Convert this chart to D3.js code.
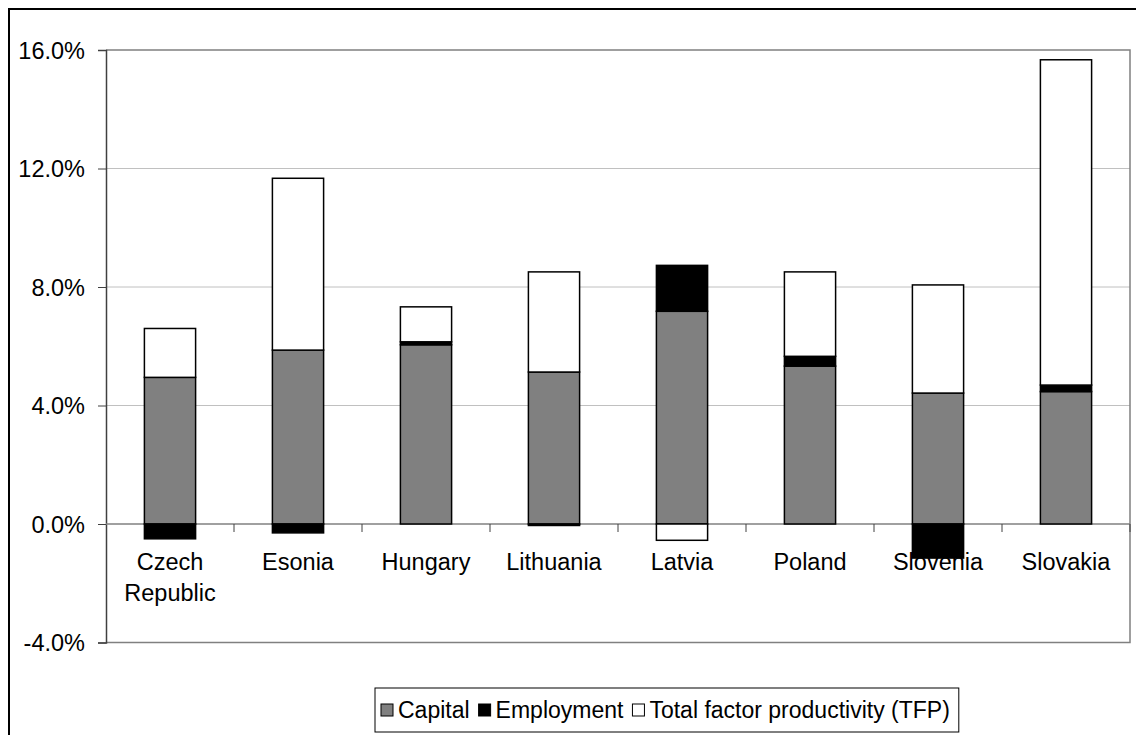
<!DOCTYPE html>
<html>
<head>
<meta charset="utf-8">
<script src="https://cdn.jsdelivr.net/npm/d3@7"></script>
<style>
  body { margin: 0; background: #fff; }
  text { font-family: "Liberation Sans", Arial, sans-serif; fill: #000; }
</style>
</head>
<body>
<div id="canvas"></div>
<script>
// data (percent growth contributions)
var countries = ["Czech Republic", "Esonia", "Hungary", "Lithuania", "Latvia", "Poland", "Slovenia", "Slovakia"];
var capital    = [4.95, 5.87, 6.05, 5.13, 7.18, 5.33, 4.42, 4.47];
var employment = [-0.50, -0.30, 0.10, -0.05, 1.55, 0.33, -1.15, 0.22];
var tfp        = [1.65, 5.80, 1.18, 3.38, -0.55, 2.85, 3.65, 10.98];
var seriesNames = ["Capital", "Employment", "Total factor productivity (TFP)"];
var yTicks = [-4, 0, 4, 8, 12, 16];

var W = 1136, H = 735;
var m = {t:50, r:6, b:92.5, l:106};

var svg = d3.select('#canvas').append('svg')
    .attr('width', W)
    .attr('height', H);

// outer frame
svg.append('rect')
    .attr('x', 9).attr('y', 9)
    .attr('width', W).attr('height', H)
    .attr('fill', '#fff')
    .attr('stroke', '#000')
    .attr('stroke-width', 2);

var rows = countries.map(function(c, i) {
    return {country: c, Capital: capital[i], Employment: employment[i], "Total factor productivity (TFP)": tfp[i]};
});

var scaleX = d3.scaleBand()
    .domain(countries)
    .range([m.l, W - m.r])
    .paddingInner(0.6)
    .paddingOuter(0.3);

var scaleY = d3.scaleLinear()
    .domain([-4, 16])
    .range([H - m.b, m.t]);

var colors = {"Capital": "#808080", "Employment": "#000000", "Total factor productivity (TFP)": "#ffffff"};

// gridlines
svg.append('g').selectAll('line')
    .data([4, 8, 12])
    .enter().append('line')
    .attr('x1', m.l).attr('x2', W - m.r)
    .attr('y1', function(d){ return scaleY(d); })
    .attr('y2', function(d){ return scaleY(d); })
    .attr('stroke', '#c0c0c0')
    .attr('stroke-width', 1);

// plot border top / right / bottom
svg.append('path')
    .attr('d', 'M' + m.l + ',' + scaleY(16) + 'H' + (W - m.r) + 'V' + scaleY(-4) + 'H' + m.l)
    .attr('fill', 'none')
    .attr('stroke', '#808080')
    .attr('stroke-width', 1.5);

// y axis
var axisY = d3.axisLeft(scaleY)
    .tickValues(yTicks)
    .tickSize(8)
    .tickPadding(13)
    .tickFormat(function(d){ return d.toFixed(1) + '%'; }); // plain hyphen for negatives
var gy = svg.append('g')
    .attr('transform', 'translate(' + m.l + ',0)')
    .call(axisY);
gy.select('.domain').attr('stroke', '#404040').attr('stroke-width', 1.5);
gy.selectAll('.tick line').attr('stroke', '#404040');
gy.selectAll('.tick text')
    .style('font-size', '23.5px')
    .attr('dy', '0.36em');

// zero line with category boundary ticks
var step = scaleX.step();
svg.append('line')
    .attr('x1', m.l).attr('x2', W - m.r)
    .attr('y1', scaleY(0)).attr('y2', scaleY(0))
    .attr('stroke', '#808080')
    .attr('stroke-width', 1.5);
svg.append('g').selectAll('line')
    .data(d3.range(1, countries.length + 1))
    .enter().append('line')
    .attr('x1', function(k){ return m.l + k * step; })
    .attr('x2', function(k){ return m.l + k * step; })
    .attr('y1', scaleY(0)).attr('y2', scaleY(0) + 8)
    .attr('stroke', '#404040');

// category labels (drawn below the bars)
var lab = svg.append('g').selectAll('text')
    .data(countries)
    .enter().append('text')
    .attr('text-anchor', 'middle')
    .attr('x', function(d){ return scaleX(d) + scaleX.bandwidth() / 2; })
    .attr('y', 570)
    .style('font-size', '23.5px');
lab.each(function(d) {
    var words = d.split(' ');
    var t = d3.select(this);
    words.forEach(function(w, i) {
        t.append('tspan')
            .attr('x', scaleX(d) + scaleX.bandwidth() / 2)
            .attr('dy', i === 0 ? 0 : 31)
            .text(w);
    });
});

// stacked bars
var stack = d3.stack()
    .keys(seriesNames)
    .offset(d3.stackOffsetDiverging);
var layers = stack(rows);

svg.append('g').selectAll('g')
    .data(layers)
    .enter().append('g')
    .attr('fill', function(d){ return colors[d.key]; })
    .selectAll('rect')
    .data(function(d){ return d; })
    .enter().append('rect')
    .attr('x', function(d){ return scaleX(d.data.country); })
    .attr('width', scaleX.bandwidth())
    .attr('y', function(d){ return scaleY(Math.max(d[0], d[1])); })
    .attr('height', function(d){ return Math.abs(scaleY(d[0]) - scaleY(d[1])); })
    .attr('stroke', '#000')
    .attr('stroke-width', 1.5);

// legend
var legend = svg.append('g');
var legBox = legend.append('rect')
    .attr('y', 688).attr('height', 44)
    .attr('fill', '#fff')
    .attr('stroke', '#000')
    .attr('stroke-width', 1);
var lx = 381;
seriesNames.forEach(function(name) {
    legend.append('rect')
        .attr('x', lx).attr('y', 704)
        .attr('width', 12).attr('height', 12)
        .attr('fill', colors[name])
        .attr('stroke', '#000')
        .attr('stroke-width', 1);
    var t = legend.append('text')
        .attr('x', lx + 17).attr('y', 718)
        .style('font-size', '23px')
        .text(name);
    lx += 17 + t.node().getComputedTextLength() + 9;
});
legBox.attr('x', 375).attr('width', lx - 375);
</script>
</body>
</html>
